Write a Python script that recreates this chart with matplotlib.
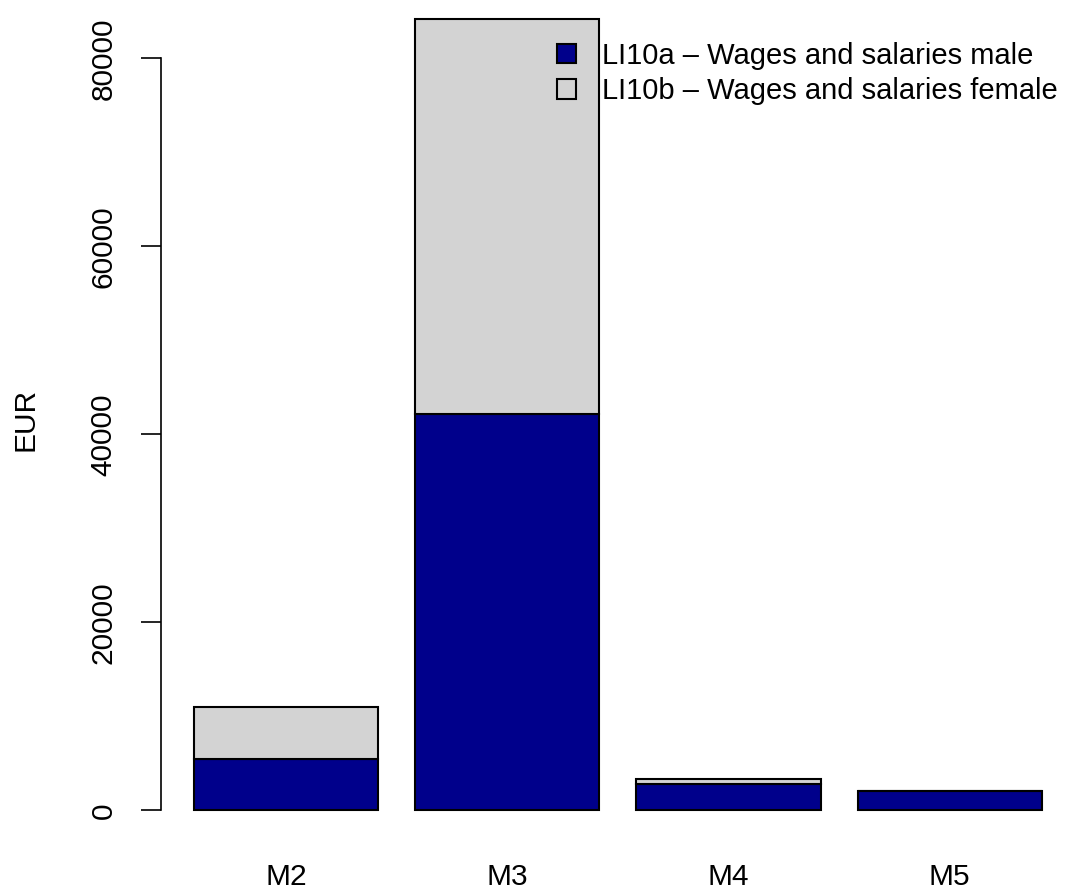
import matplotlib
matplotlib.use("Agg")
import matplotlib.pyplot as plt
from matplotlib.patches import Patch

# Wages and salaries by group, stacked male / female
groups = ["M2", "M3", "M4", "M5"]
male = [5460, 42150, 2770, 2050]
female = [5530, 42030, 560, 40]
series_labels = [
    "LI10a \u2013 Wages and salaries male",
    "LI10b \u2013 Wages and salaries female",
]
yticks = [0, 20000, 40000, 60000, 80000]

MALE_COLOR = "#00008b"
FEMALE_COLOR = "#d3d3d3"

W, H, DPI = 1068, 891, 100
FS = 21.5

plt.rcParams["font.family"] = ["Liberation Sans", "DejaVu Sans"]

fig = plt.figure(figsize=(W / DPI, H / DPI), dpi=DPI)
left_px = 160.7
ax = fig.add_axes([left_px / W, 0, 1 - left_px / W, 1])

# R-style barplot positions: width 1, space 0.2
xs = [0.7 + 1.2 * i for i in range(len(groups))]
ax.bar(xs, male, width=1.0, color=MALE_COLOR, edgecolor="black", linewidth=1.5)
ax.bar(xs, female, width=1.0, bottom=male, color=FEMALE_COLOR,
       edgecolor="black", linewidth=1.5)

# scale: 0 at y=810.3 px, 9.4 px per 1000
px_per_unit = 0.0094
ax.set_ylim(-(H - 810.3) / px_per_unit, 810.3 / px_per_unit)
ax.set_xlim(0.0193, 4.942)

for s in ["top", "right", "bottom"]:
    ax.spines[s].set_visible(False)
ax.spines["left"].set_bounds(0, 80000)
ax.spines["left"].set_linewidth(1.2)

ax.set_yticks(yticks)
ax.set_yticklabels([str(v) for v in yticks], rotation=90, va="center",
                   fontsize=FS)
ax.tick_params(axis="y", length=14.4, width=1.2, pad=16.5)

# group names sit below the bars, like R's barplot names
ax.set_xticks([])
for x, name in zip(xs, groups):
    ax.text(x, -7100, name, ha="center", va="center", fontsize=FS)

ax.set_ylabel("EUR", fontsize=FS)
ax.yaxis.set_label_coords((40 - left_px) / (W - left_px), 1 - 419 / H)

handles = [Patch(facecolor=MALE_COLOR, edgecolor="black", linewidth=1.5),
           Patch(facecolor=FEMALE_COLOR, edgecolor="black", linewidth=1.5)]
fig.legend(handles, series_labels, loc="upper left",
           bbox_to_anchor=(557 / W, 1 - 42 / H), frameon=False,
           fontsize=21, handlelength=0.65, handleheight=0.65,
           handletextpad=0.9, labelspacing=0.25, borderpad=0,
           borderaxespad=0)

fig.savefig("out.png", dpi=DPI)
